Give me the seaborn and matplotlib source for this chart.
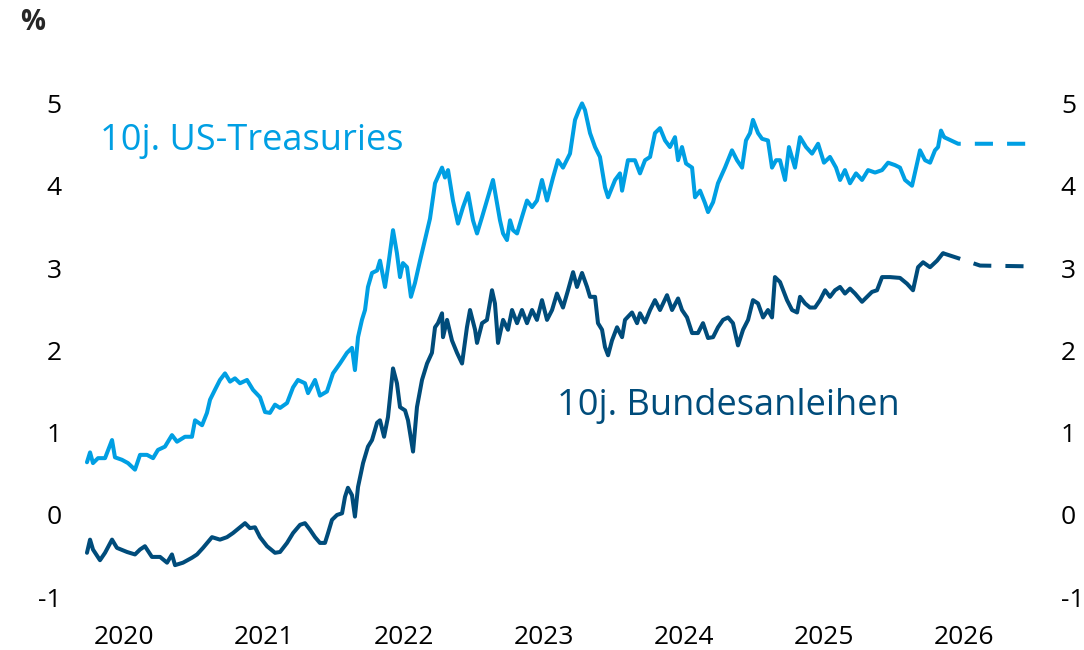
import numpy as np
import pandas as pd
import seaborn as sns
import matplotlib.pyplot as plt

# 10-year yields, decimal years
us_t = [2020.257, 2020.279, 2020.300, 2020.336, 2020.386, 2020.436, 2020.457, 2020.507, 2020.550, 2020.600,
        2020.636, 2020.686, 2020.729, 2020.764, 2020.814, 2020.864, 2020.900, 2020.957, 2021.007, 2021.029,
        2021.079, 2021.114, 2021.136, 2021.171, 2021.207, 2021.243, 2021.279, 2021.314, 2021.350, 2021.400,
        2021.443, 2021.493, 2021.529, 2021.564, 2021.600, 2021.636, 2021.686, 2021.729, 2021.764, 2021.814,
        2021.836, 2021.886, 2021.921, 2021.971, 2022.014, 2022.064, 2022.114, 2022.150, 2022.171, 2022.193,
        2022.221, 2022.243, 2022.264, 2022.293, 2022.329, 2022.350, 2022.386, 2022.407, 2022.443, 2022.471,
        2022.493, 2022.514, 2022.543, 2022.571, 2022.600, 2022.636, 2022.671, 2022.707, 2022.743, 2022.793,
        2022.814, 2022.836, 2022.871, 2022.907, 2022.943, 2022.979, 2023.014, 2023.043, 2023.079, 2023.114,
        2023.157, 2023.186, 2023.207, 2023.229, 2023.257, 2023.279, 2023.300, 2023.329, 2023.364, 2023.400,
        2023.436, 2023.471, 2023.507, 2023.543, 2023.586, 2023.621, 2023.657, 2023.707, 2023.743, 2023.771,
        2023.793, 2023.814, 2023.850, 2023.886, 2023.921, 2023.957, 2023.979, 2024.029, 2024.064, 2024.079,
        2024.121, 2024.171, 2024.207, 2024.243, 2024.279, 2024.314, 2024.350, 2024.386, 2024.421, 2024.457,
        2024.479, 2024.507, 2024.536, 2024.579, 2024.600, 2024.636, 2024.671, 2024.693, 2024.729, 2024.764,
        2024.814, 2024.864, 2024.900, 2024.936, 2024.964, 2024.993, 2025.014, 2025.050, 2025.079, 2025.121,
        2025.150, 2025.179, 2025.207, 2025.243, 2025.271, 2025.314, 2025.350, 2025.393, 2025.436, 2025.479,
        2025.521, 2025.564, 2025.607, 2025.636, 2025.671, 2025.707, 2025.750, 2025.793, 2025.836, 2025.886,
        2025.936, 2025.979, 2026.029, 2026.064, 2026.100, 2026.150, 2026.179, 2026.207, 2026.243, 2026.279,
        2026.314, 2026.336, 2026.357, 2026.379]
us_yield = [0.64, 0.76, 0.63, 0.69, 0.69, 0.91, 0.70, 0.67, 0.63, 0.55,
            0.73, 0.73, 0.69, 0.79, 0.83, 0.97, 0.89, 0.95, 0.95, 1.15,
            1.09, 1.24, 1.40, 1.52, 1.64, 1.72, 1.62, 1.66, 1.60, 1.64,
            1.52, 1.43, 1.25, 1.24, 1.34, 1.30, 1.36, 1.55, 1.64, 1.60,
            1.48, 1.64, 1.45, 1.50, 1.72, 1.84, 1.97, 2.03, 1.76, 2.16,
            2.37, 2.49, 2.77, 2.94, 2.97, 3.09, 2.77, 3.01, 3.46, 3.18,
            2.89, 3.06, 3.01, 2.65, 2.82, 3.09, 3.34, 3.60, 4.03, 4.22,
            4.10, 4.19, 3.82, 3.54, 3.74, 3.91, 3.58, 3.42, 3.62, 3.82,
            4.07, 3.79, 3.58, 3.42, 3.34, 3.58, 3.46, 3.42, 3.62, 3.82,
            3.74, 3.82, 4.07, 3.82, 4.10, 4.31, 4.22, 4.39, 4.80, 4.92,
            5.00, 4.92, 4.64, 4.47, 4.35, 3.98, 3.86, 4.07, 4.15, 3.94,
            4.31, 4.31, 4.15, 4.31, 4.35, 4.64, 4.70, 4.55, 4.47, 4.59,
            4.31, 4.47, 4.27, 4.22, 3.86, 3.94, 3.79, 3.68, 3.80, 4.03,
            4.22, 4.43, 4.31, 4.22, 4.55, 4.64, 4.80, 4.64, 4.57, 4.55,
            4.22, 4.31, 4.31, 4.07, 4.47, 4.22, 4.59, 4.47, 4.39, 4.51,
            4.28, 4.35, 4.22, 4.07, 4.19, 4.03, 4.15, 4.07, 4.19, 4.16,
            4.19, 4.28, 4.25, 4.22, 4.07, 4.00, 4.22, 4.43, 4.31, 4.28,
            4.43, 4.47, 4.67, 4.59]

de_t = [2020.257, 2020.279, 2020.300, 2020.350, 2020.386, 2020.436, 2020.471, 2020.543, 2020.600, 2020.636,
        2020.671, 2020.721, 2020.779, 2020.829, 2020.864, 2020.886, 2020.943, 2021.007, 2021.043, 2021.086,
        2021.150, 2021.207, 2021.257, 2021.300, 2021.350, 2021.386, 2021.421, 2021.457, 2021.493, 2021.543,
        2021.600, 2021.636, 2021.686, 2021.729, 2021.779, 2021.814, 2021.850, 2021.886, 2021.921, 2021.957,
        2021.979, 2022.007, 2022.043, 2022.079, 2022.100, 2022.121, 2022.150, 2022.171, 2022.193, 2022.229,
        2022.264, 2022.293, 2022.329, 2022.350, 2022.379, 2022.407, 2022.443, 2022.471, 2022.493, 2022.529,
        2022.550, 2022.586, 2022.614, 2022.650, 2022.686, 2022.721, 2022.743, 2022.764, 2022.793, 2022.800,
        2022.829, 2022.864, 2022.900, 2022.936, 2022.971, 2022.993, 2023.029, 2023.043, 2023.079, 2023.114,
        2023.150, 2023.171, 2023.193, 2023.229, 2023.264, 2023.293, 2023.329, 2023.364, 2023.400, 2023.436,
        2023.471, 2023.507, 2023.543, 2023.579, 2023.614, 2023.657, 2023.693, 2023.729, 2023.757, 2023.793,
        2023.829, 2023.850, 2023.886, 2023.907, 2023.936, 2023.957, 2023.979, 2024.007, 2024.043, 2024.079,
        2024.100, 2024.150, 2024.186, 2024.207, 2024.243, 2024.279, 2024.314, 2024.350, 2024.400, 2024.436,
        2024.479, 2024.507, 2024.543, 2024.579, 2024.621, 2024.657, 2024.693, 2024.729, 2024.764, 2024.800,
        2024.836, 2024.871, 2024.907, 2024.943, 2024.979, 2025.014, 2025.050, 2025.086, 2025.121, 2025.150,
        2025.171, 2025.207, 2025.257, 2025.293, 2025.329, 2025.350, 2025.386, 2025.421, 2025.457, 2025.493,
        2025.529, 2025.564, 2025.600, 2025.636, 2025.671, 2025.707, 2025.743, 2025.793, 2025.829, 2025.864,
        2025.900, 2025.936, 2025.993, 2026.064, 2026.114, 2026.157, 2026.193, 2026.229, 2026.279, 2026.329,
        2026.371]
de_yield = [-0.46, -0.30, -0.42, -0.55, -0.46, -0.30, -0.40, -0.45, -0.48, -0.42,
            -0.38, -0.51, -0.51, -0.58, -0.48, -0.61, -0.58, -0.52, -0.48, -0.40,
            -0.27, -0.30, -0.27, -0.22, -0.15, -0.10, -0.16, -0.15, -0.27, -0.38,
            -0.46, -0.45, -0.34, -0.22, -0.12, -0.10, -0.18, -0.27, -0.34, -0.34,
            -0.22, -0.06, 0.00, 0.02, 0.22, 0.33, 0.24, -0.02, 0.34, 0.63,
            0.83, 0.91, 1.12, 1.15, 0.95, 1.19, 1.78, 1.60, 1.31, 1.27,
            1.15, 0.77, 1.31, 1.64, 1.84, 1.97, 2.28, 2.33, 2.45, 2.16,
            2.37, 2.12, 1.97, 1.84, 2.28, 2.49, 2.25, 2.09, 2.33, 2.37,
            2.73, 2.57, 2.09, 2.37, 2.25, 2.49, 2.33, 2.49, 2.33, 2.49,
            2.37, 2.61, 2.37, 2.49, 2.69, 2.52, 2.73, 2.95, 2.77, 2.94,
            2.77, 2.65, 2.65, 2.33, 2.25, 2.04, 1.94, 2.12, 2.28, 2.16,
            2.37, 2.46, 2.33, 2.45, 2.34, 2.49, 2.61, 2.49, 2.67, 2.49,
            2.63, 2.49, 2.40, 2.21, 2.21, 2.33, 2.15, 2.16, 2.28, 2.37,
            2.40, 2.33, 2.06, 2.25, 2.37, 2.61, 2.57, 2.40, 2.49, 2.40,
            2.89, 2.83, 2.61, 2.49, 2.46, 2.65, 2.57, 2.52, 2.52, 2.61,
            2.73, 2.65, 2.73, 2.77, 2.69, 2.75, 2.69, 2.59, 2.65, 2.71,
            2.73, 2.89, 2.89, 2.88, 2.81, 2.73, 3.01, 3.07, 3.01, 3.09,
            3.18]

# forecast paths
us_fc_t = [2026.379, 2026.479, 2027.007]
us_fc = [4.59, 4.51, 4.51]
de_fc_t = [2026.371, 2026.479, 2026.636, 2027.007]
de_fc = [3.18, 3.12, 3.03, 3.02]

years = [2020, 2021, 2022, 2023, 2024, 2025, 2026]
series_names = ["10j. US-Treasuries", "10j. Bundesanleihen"]
colors = ["#009fe3", "#004c7b"]

hist = pd.concat([
    pd.DataFrame({"t": us_t, "y": us_yield, "series": series_names[0]}),
    pd.DataFrame({"t": de_t, "y": de_yield, "series": series_names[1]}),
])
fc = pd.concat([
    pd.DataFrame({"t": us_fc_t, "y": us_fc, "series": series_names[0]}),
    pd.DataFrame({"t": de_fc_t, "y": de_fc, "series": series_names[1]}),
])

sns.set_style("white")
plt.rcParams["font.family"] = ["Open Sans", "DejaVu Sans"]

fig = plt.figure(figsize=(10.84, 6.5), dpi=100)
ax = fig.add_axes([0.0646, 0.0685, 0.8948, 0.7977])

pal = dict(zip(series_names, colors))
sns.lineplot(data=hist, x="t", y="y", hue="series", palette=pal, linewidth=2.9,
             legend=False, ax=ax, estimator=None, sort=False)
sns.lineplot(data=fc, x="t", y="y", hue="series", palette=pal, linewidth=2.9,
             legend=False, ax=ax, estimator=None, sort=False, dashes=False)
for line in ax.lines[2:]:
    line.set_dashes((4.5, 3.5))

ax.set_xlim(2020.136, 2027.064)
ax.set_ylim(-1.1, 5.2)
ax.set_xticks([y + 0.52 for y in years])
ax.set_xticklabels([str(y) for y in years])
ax.set_yticks(range(-1, 6))
ax.set_yticklabels([str(v) for v in range(-1, 6)])
ax.set_xlabel("")
ax.set_ylabel("")
ax.tick_params(axis="x", length=0, pad=14, labelsize=19, labelcolor="black")
ax.tick_params(axis="y", length=0, pad=6, labelsize=19, labelcolor="black")
for s in ax.spines.values():
    s.set_visible(False)

ax2 = ax.twinx()
ax2.set_ylim(ax.get_ylim())
ax2.set_yticks(range(-1, 6))
ax2.set_yticklabels([str(v) for v in range(-1, 6)])
ax2.tick_params(axis="y", length=0, pad=15, labelsize=19, labelcolor="black")
for s in ax2.spines.values():
    s.set_visible(False)

fig.text(100 / 1084, 1 - 141 / 650, series_names[0], color=colors[0], fontsize=26, va="center")
fig.text(557 / 1084, 1 - 406 / 650, series_names[1], color=colors[1], fontsize=26, va="center")
fig.text(20 / 1084, 1 - 22 / 650, "%", fontsize=20, fontweight="bold", va="center")

fig.savefig("out.png", dpi=100)
